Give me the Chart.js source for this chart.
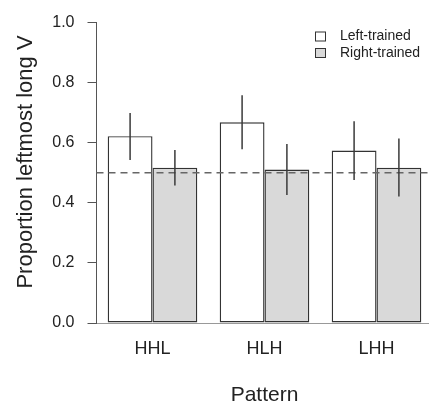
<!DOCTYPE html>
<html><head><meta charset="utf-8">
<script src="https://cdn.jsdelivr.net/npm/chart.js@4/dist/chart.umd.min.js"></script>
<style>html,body{margin:0;padding:0;overflow:hidden;background:#fff}canvas{display:block}</style>
</head><body>
<canvas id="c" width="433" height="404"></canvas>
<script>
const categories = ['HHL', 'HLH', 'LHH'];
const seriesNames = ['Left-trained', 'Right-trained'];
const leftTrained = [0.622, 0.668, 0.574];
const rightTrained = [0.517, 0.511, 0.517];
const leftLow = [0.543, 0.578, 0.476];
const leftHigh = [0.699, 0.758, 0.672];
const rightLow = [0.458, 0.426, 0.421];
const rightHigh = [0.576, 0.596, 0.614];
const chanceLevel = 0.5;
const yTicks = [0, 0.2, 0.4, 0.6, 0.8, 1.0];
const yTitle = 'Proportion leftmost long V';
const xTitle = 'Pattern';

const FONT = '"Liberation Sans", Arial, sans-serif';
const errLow = [leftLow, rightLow];
const errHigh = [leftHigh, rightHigh];

const overlayPlugin = {
  id: 'overlay',
  afterDatasetsDraw(chart) {
    const ctx = chart.ctx, y = chart.scales.y, area = chart.chartArea;
    ctx.save();
    ctx.strokeStyle = '#666';
    ctx.lineWidth = 1.6;
    ctx.setLineDash([7, 5]);
    ctx.beginPath();
    const yy = y.getPixelForValue(chanceLevel);
    ctx.moveTo(area.left, yy); ctx.lineTo(area.right, yy);
    ctx.stroke();
    ctx.restore();
    ctx.save();
    ctx.strokeStyle = '#3a3a3a';
    ctx.lineWidth = 1.5;
    chart.data.datasets.forEach((ds, di) => {
      const meta = chart.getDatasetMeta(di);
      meta.data.forEach((bar, i) => {
        ctx.beginPath();
        ctx.moveTo(bar.x, y.getPixelForValue(errLow[di][i]));
        ctx.lineTo(bar.x, y.getPixelForValue(errHigh[di][i]));
        ctx.stroke();
      });
    });
    ctx.restore();
  },
  afterDraw(chart) {
    const ctx = chart.ctx;
    ctx.save();
    ctx.font = '14px ' + FONT;
    ctx.textBaseline = 'middle';
    ctx.textAlign = 'left';
    chart.data.datasets.forEach((ds, i) => {
      const cy = 36.5 + i * 16.5;
      ctx.fillStyle = ds.backgroundColor;
      ctx.fillRect(315.5, cy - 4.5, 10, 9);
      ctx.strokeStyle = '#333';
      ctx.lineWidth = 1;
      ctx.strokeRect(315.5, cy - 4.5, 10, 9);
      ctx.fillStyle = '#222';
      ctx.fillText(ds.label, 340, cy);
    });
    ctx.restore();
    // y-axis title
    ctx.save();
    ctx.font = '22px ' + FONT;
    ctx.fillStyle = '#222';
    ctx.textAlign = 'center';
    ctx.textBaseline = 'middle';
    ctx.translate(26, 162);
    ctx.rotate(-Math.PI / 2);
    ctx.fillText(yTitle, 0, 0);
    ctx.restore();
  }
};

new Chart(document.getElementById('c'), {
  type: 'bar',
  data: {
    labels: categories,
    datasets: [
      { label: seriesNames[0], data: leftTrained, backgroundColor: '#ffffff', borderColor: '#333', borderWidth: 1.4, borderSkipped: false, categoryPercentage: 0.8, barPercentage: 1.0 },
      { label: seriesNames[1], data: rightTrained, backgroundColor: '#d9d9d9', borderColor: '#333', borderWidth: 1.4, borderSkipped: false, categoryPercentage: 0.8, barPercentage: 1.0 }
    ]
  },
  options: {
    responsive: false,
    animation: false,
    devicePixelRatio: 1,
    layout: { padding: { top: 17, right: 0.5, bottom: 0, left: 0 } },
    plugins: { legend: { display: false }, tooltip: { enabled: false } },
    scales: {
      x: {
        grid: { display: false, drawTicks: false },
        border: { display: true, color: '#999', width: 1 },
        ticks: { color: '#222', font: { family: FONT, size: 18 }, padding: 15 },
        title: { display: true, text: xTitle, color: '#222', font: { family: FONT, size: 21, lineHeight: 1.0 }, padding: { top: 0, bottom: -2 } },
        afterFit(scale) { scale.height = 81; }
      },
      y: {
        min: 0, max: 1,
        afterBuildTicks(scale) { scale.ticks = yTicks.map(v => ({ value: v })); },
        grid: { display: true, drawOnChartArea: false, drawTicks: true, tickLength: 9, color: '#555' },
        border: { display: true, color: '#555', width: 1 },
        ticks: { color: '#222', font: { family: FONT, size: 16 }, padding: 13, callback: v => v.toFixed(1) },
        title: { display: false },
        afterFit(scale) { scale.width = 96.5; }
      }
    }
  },
  plugins: [overlayPlugin]
});
</script>
</body></html>
